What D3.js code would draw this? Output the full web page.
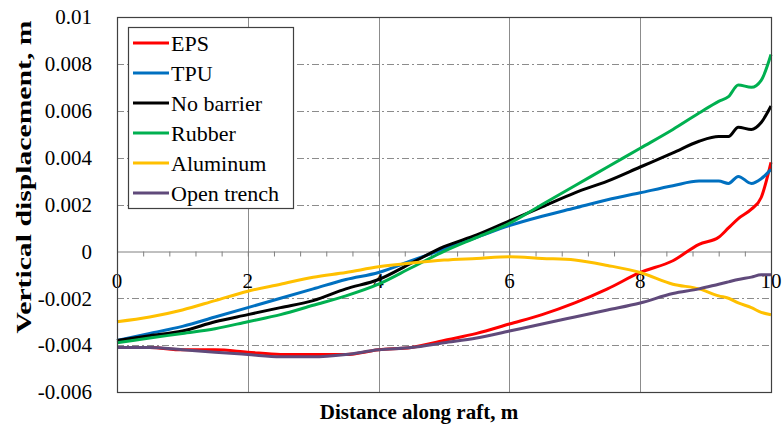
<!DOCTYPE html>
<html>
<head>
<meta charset="utf-8">
<script src="https://d3js.org/d3.v7.min.js"></script>
<style>
    body { margin: 0; background: #fff; }
</style>
</head>
<body>
<script>
// distance along raft (m), shared by all series
var xs = [0, 0.5, 1, 1.5, 2, 2.5, 3, 3.5, 4, 4.5, 5, 5.5, 6, 6.5, 7, 7.5, 8, 8.5, 8.9, 9.2, 9.35, 9.5, 9.7, 9.85, 10];

// vertical displacement (m) per barrier
var eps = [-0.0041, -0.0041, -0.0042, -0.0042, -0.0043, -0.0044, -0.0044, -0.0044, -0.0042, -0.0041, -0.0038, -0.0035, -0.0031, -0.0027, -0.0022, -0.0016, -0.0009, -0.0004, 0.0003, 0.0006, 0.0010, 0.0014, 0.0018, 0.0023, 0.0038];
var tpu = [-0.0038, -0.0035, -0.0032, -0.0028, -0.0024, -0.0020, -0.0016, -0.0012, -0.0009, -0.0004, 0.0001, 0.0006, 0.0011, 0.0015, 0.00185, 0.0022, 0.0025, 0.0028, 0.0030, 0.0030, 0.0029, 0.0032, 0.0029, 0.0031, 0.0035];
var noBarrier = [-0.0038, -0.0036, -0.0034, -0.0030, -0.0027, -0.0024, -0.0021, -0.0016, -0.0012, -0.0005, 0.0002, 0.0007, 0.0013, 0.0019, 0.0025, 0.0030, 0.0036, 0.0042, 0.0047, 0.0049, 0.0049, 0.0053, 0.0052, 0.0055, 0.0062];
var rubber = [-0.0039, -0.0037, -0.0035, -0.0033, -0.0030, -0.0027, -0.0023, -0.0019, -0.0014, -0.0007, 0.0000, 0.0006, 0.0012, 0.0020, 0.0028, 0.0036, 0.0044, 0.0052, 0.0059, 0.0064, 0.0066, 0.0071, 0.0070, 0.0073, 0.0084];
var aluminum = [-0.0030, -0.0028, -0.0025, -0.0021, -0.0017, -0.0014, -0.0011, -0.0009, -0.00066, -0.0005, -0.00037, -0.0003, -0.00023, -0.0003, -0.00037, -0.0006, -0.0009, -0.0014, -0.0016, -0.0019, -0.0020, -0.0022, -0.0024, -0.0026, -0.0027];
var openTrench = [-0.0041, -0.0041, -0.0042, -0.0043, -0.0044, -0.0045, -0.0045, -0.0044, -0.0042, -0.0041, -0.0039, -0.0037, -0.0034, -0.0031, -0.0028, -0.0025, -0.0022, -0.0018, -0.0016, -0.0014, -0.0013, -0.0012, -0.0011, -0.0010, -0.0010];

var seriesNames = ["EPS", "TPU", "No barrier", "Rubber", "Aluminum", "Open trench"];
var seriesColors = ["#ff0000", "#0070c0", "#000000", "#00b050", "#ffc000", "#604a7b"];
var seriesValues = [eps, tpu, noBarrier, rubber, aluminum, openTrench];

// tick labels
var xTicks = [0, 2, 4, 6, 8, 10];
var yTicks = [-0.006, -0.004, -0.002, 0, 0.002, 0.004, 0.006, 0.008, 0.01];

window.onload = function(){

    var w = 783, h = 428;
    var left = 117, right = 771, top = 17, bottom = 392;
    var serif = "'Liberation Serif', 'DejaVu Serif', serif";

    var svg = d3.select("body")
        .append("svg")
        .attr("width", w)
        .attr("height", h)
        .attr("font-family", serif)
        .style("font-family", serif);

    var x = d3.scaleLinear()
        .domain([0, 10])
        .range([left, right]);

    var y = d3.scaleLinear()
        .domain([-0.006, 0.01])
        .range([bottom, top]);

    // horizontal dash-dot gridlines
    svg.selectAll(".hgrid")
        .data(yTicks.filter(function(d){ return d !== 0 && d !== 0.01 && d !== -0.006; }))
        .enter()
        .append("line")
        .attr("x1", left)
        .attr("x2", right)
        .attr("y1", function(d){ return Math.round(y(d)) + 0.5; })
        .attr("y2", function(d){ return Math.round(y(d)) + 0.5; })
        .style("stroke", "#8c8c8c")
        .style("stroke-width", 1)
        .style("stroke-dasharray", "7,3,2,3");

    // vertical solid gridlines
    svg.selectAll(".vgrid")
        .data([2, 4, 6, 8])
        .enter()
        .append("line")
        .attr("x1", function(d){ return Math.round(x(d)) + 0.5; })
        .attr("x2", function(d){ return Math.round(x(d)) + 0.5; })
        .attr("y1", top)
        .attr("y2", bottom)
        .style("stroke", "#8c8c8c")
        .style("stroke-width", 1);

    // x axis sitting on zero, minor ticks every 0.4 m
    var xAxis = d3.axisBottom(x)
        .tickValues(d3.range(0, 10.01, 0.4))
        .tickSize(5)
        .tickSizeOuter(0)
        .tickFormat("");

    var axisG = svg.append("g")
        .attr("transform", "translate(0," + (Math.round(y(0)) + 0.5) + ")")
        .call(xAxis);
    axisG.selectAll("path, line")
        .style("stroke", "#808080");

    // x tick labels under the zero line
    svg.selectAll(".xlab")
        .data(xTicks)
        .enter()
        .append("text")
        .attr("x", function(d){ return x(d); })
        .attr("y", y(0) + 37)
        .attr("text-anchor", "middle")
        .style("font-family", serif)
        .style("font-size", "21px")
        .text(function(d){ return d; });

    // y tick labels
    svg.selectAll(".ylab")
        .data(yTicks)
        .enter()
        .append("text")
        .attr("x", 92)
        .attr("y", function(d){ return y(d); })
        .attr("dy", "0.35em")
        .attr("text-anchor", "end")
        .style("font-family", serif)
        .style("font-size", "21px")
        .text(function(d){ return d === 0 ? "0" : String(d); });

    // series lines
    var line = d3.line()
        .x(function(d){ return x(d[0]); })
        .y(function(d){ return y(d[1]); })
        .curve(d3.curveMonotoneX);

    seriesValues.forEach(function(vals, i){
        svg.append("path")
            .datum(xs.map(function(v, j){ return [v, vals[j]]; }))
            .attr("d", line)
            .style("fill", "none")
            .style("stroke", seriesColors[i])
            .style("stroke-width", 3)
            .style("stroke-linejoin", "round");
    });

    // plot border
    svg.append("rect")
        .attr("x", left + 0.5)
        .attr("y", top + 0.5)
        .attr("width", right - left)
        .attr("height", bottom - top)
        .style("fill", "none")
        .style("stroke", "#404040")
        .style("stroke-width", 1.2);

    // legend
    var legend = svg.append("g");
    legend.append("rect")
        .attr("x", 128.5)
        .attr("y", 27.5)
        .attr("width", 165)
        .attr("height", 181)
        .style("fill", "#fff")
        .style("stroke", "#404040")
        .style("stroke-width", 1.2);

    var items = legend.selectAll(".item")
        .data(seriesNames)
        .enter()
        .append("g")
        .attr("transform", function(d, i){ return "translate(0," + (43 + i * 30) + ")"; });

    items.append("line")
        .attr("x1", 133)
        .attr("x2", 169)
        .style("stroke", function(d, i){ return seriesColors[i]; })
        .style("stroke-width", 3);

    items.append("text")
        .attr("x", 171)
        .attr("dy", "0.35em")
        .style("font-family", serif)
        .style("font-size", "22px")
        .text(function(d){ return d; });

    // axis titles
    svg.append("text")
        .attr("transform", "translate(31,177) rotate(-90)")
        .attr("text-anchor", "middle")
        .attr("textLength", 313)
        .attr("lengthAdjust", "spacingAndGlyphs")
        .style("font-family", serif)
        .style("font-size", "22px")
        .style("font-weight", "bold")
        .text("Vertical displacement, m");

    svg.append("text")
        .attr("x", 419)
        .attr("y", 419)
        .attr("text-anchor", "middle")
        .style("font-family", serif)
        .style("font-size", "21px")
        .style("font-weight", "bold")
        .text("Distance along raft, m");
};
</script>
</body>
</html>
